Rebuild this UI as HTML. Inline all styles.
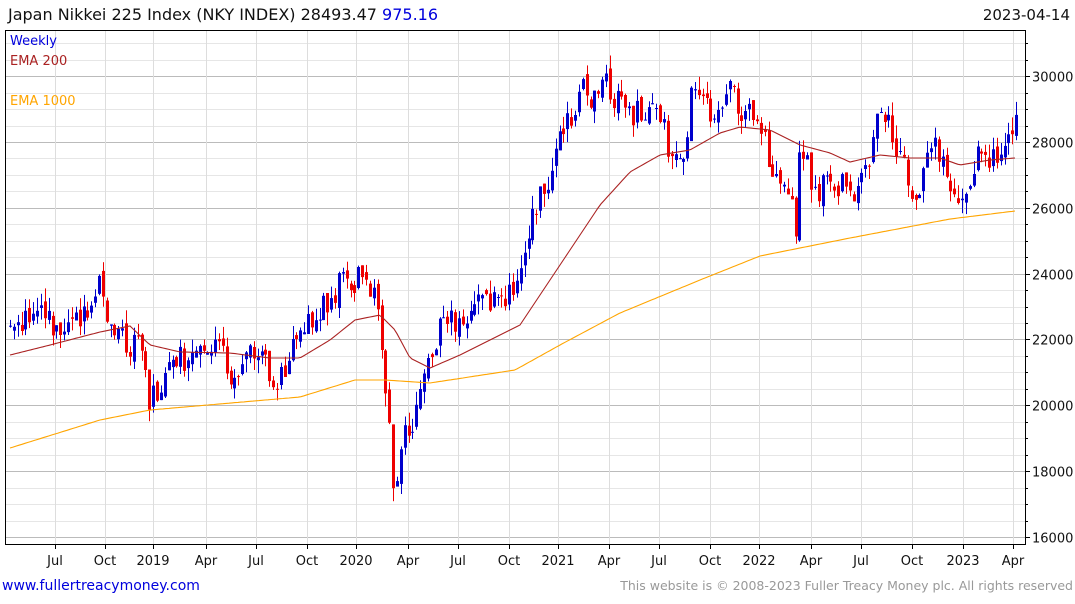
<!DOCTYPE html>
<html><head><meta charset="utf-8"><style>
body{margin:0;background:#fff;width:1075px;height:600px;overflow:hidden;font-family:"DejaVu Sans","Liberation Sans",sans-serif}
</style></head><body>
<svg id="s" width="1075" height="600" xmlns="http://www.w3.org/2000/svg" font-family="DejaVu Sans, Liberation Sans, sans-serif">
<g id="grid"></g>
<g id="cand"></g>
<polyline id="e1" points="" fill="none" stroke="#ffa500" stroke-width="1.1"/>
<polyline id="e2" points="" fill="none" stroke="#aa2222" stroke-width="1.1"/>
<rect x="5.5" y="30.5" width="1020" height="514" fill="none" stroke="#000"/>
<rect x="0" y="0" width="1075" height="30" fill="#fff"/>
<text x="8" y="20" font-size="16" fill="#111">Japan Nikkei 225 Index (NKY INDEX) 28493.47 <tspan fill="#0000dd">975.16</tspan></text>
<text x="1070" y="20" font-size="15" fill="#111" text-anchor="end">2023-04-14</text>
<text x="10" y="45" font-size="13" fill="#0000dd">Weekly</text>
<text x="10" y="65" font-size="13" fill="#aa2222">EMA 200</text>
<text x="10" y="105" font-size="13" fill="#ffa500">EMA 1000</text>
<text x="2" y="590" font-size="14" fill="#0000dd">www.fullertreacymoney.com</text>
<text x="1073" y="590" font-size="12.5" fill="#999" text-anchor="end">This website is © 2008-2023 Fuller Treacy Money plc. All rights reserved</text>
</svg>
<script>
(function(){
var NS="http://www.w3.org/2000/svg";
function el(p,t,a,tx){var e=document.createElementNS(NS,t);for(var k in a)e.setAttribute(k,String(a[k]));if(tx)e.textContent=tx;document.getElementById(p).appendChild(e);return e;}
function rnd(x){return (x+0.5)|0;}
function f1(x){return String(((x*10+0.5)|0)/10);}
function Y(v){return 537-(v-16000)*0.03292;}
for(var v=16000;v<=31000;v+=500){var y=rnd(Y(v))+.5;if(y<31||y>544)continue;
 var maj=(v%2000)==0;el('grid','line',{x1:5,x2:1025,y1:y,y2:y,stroke:maj?'#bbb':'#e6e6e6'});
 el('grid','line',{x1:1025,x2:maj?1030:1028,y1:y,y2:y,stroke:'#000'});
 if(maj)el('grid','text',{x:1032,y:y+5,'font-size':13,fill:'#111'},String(v));}
var xl=[[55,'Jul'],[105,'Oct'],[153,'2019'],[206,'Apr'],[256,'Jul'],[307,'Oct'],[356,'2020'],[408,'Apr'],[458,'Jul'],[509,'Oct'],[558,'2021'],[609,'Apr'],[659,'Jul'],[710,'Oct'],[759,'2022'],[811,'Apr'],[861,'Jul'],[912,'Oct'],[963,'2023'],[1013,'Apr']];
for(var j=0;j<xl.length;j++){var a=xl[j];var x=a[0]+.5;el('grid','line',{x1:x,x2:x,y1:31,y2:544,stroke:'#ddd'});
 el('grid','line',{x1:x,x2:x,y1:544,y2:549,stroke:'#000'});
 el('grid','text',{x:a[0],y:565,'font-size':13,fill:'#111','text-anchor':'middle'},a[1]);}
var P=[[10,330],[20,318],[40,318],[60,325],[80,322],[100,275],[110,325],[125,345],[140,350],[150,400],[165,380],[180,360],[200,350],[215,335],[230,375],[245,360],[260,355],[275,390],[290,350],[300,335],[315,320],[330,295],[345,280],[360,280],[375,290],[380,340],[388,400],[394,515],[400,450],[410,425],[420,400],[435,340],[440,315],[460,320],[470,310],[480,300],[500,295],[515,290],[525,265],[530,230],[540,185],[550,182],[555,155],[565,125],[575,105],[580,75],[590,95],[605,85],[615,100],[625,115],[640,110],[660,120],[670,150],[685,165],[692,65],[700,95],[710,115],[720,100],[730,88],[740,120],[755,115],[765,140],[775,180],[790,195],[795,245],[800,140],[810,175],[820,190],[835,180],[850,195],[860,185],[870,150],[880,112],[895,140],[905,170],[910,215],[920,180],[930,140],[940,150],[950,180],[960,210],[970,190],[975,150],[990,155],[1000,160],[1010,145],[1015,125]];
function interp(A,x){for(var i=1;i<A.length;i++){if(x<=A[i][0]){var a=A[i-1],b=A[i];return a[1]+(b[1]-a[1])*(x-a[0])/(b[0]-a[0]);}}return A[A.length-1][1];}
var D="31415926535897932384626433832795028841971693993751058209749445923078164062862089986280348253421170679821480865132823066470938446095505822317253594081284811174502841027019385211055596446229489549303819644288109756659334461284756482337867831652712019091456485669234603486104543266482133936072602491412737245870066063155881748815209209628292540917153643678925903600113305305488204665213841469519415116094330572703657595919530921861173819326117931051185480744623799627495673518857527248912279381830119491";
var di=0;function r(){var d=D.charCodeAt(di%D.length)-48;di++;return d/9;}
var prev=interp(P,10);
for(var i=0;i<=260;i++){var x=10+i*3.87;
 var c=interp(P,x)+(r()-.5)*26;var o=prev+(r()-.5)*10;
 var bt=o<c?o:c,bb=o<c?c:o;var hi=bt-r()*13,lo=bb+r()*13;
 var h=bb-bt;if(h<1)h=1;var xx=rnd(x);
 var col=(c<o)?'#0000cc':'#ee0000';
 el('cand','rect',{x:xx,y:f1(hi),width:1,height:f1(lo-hi),fill:col});
 el('cand','rect',{x:xx-1,y:f1(bt),width:3,height:f1(h),fill:col});
 prev=c;}
function poly(id,A){var s='';for(var x=10;x<=1015;x+=3)s+=x+','+f1(interp(A,x))+' ';document.getElementById(id).setAttribute('points',s);}
poly('e1',[[10,448],[100,420],[150,410],[300,397],[355,380],[385,380],[430,383],[515,370],[560,345],[620,313],[700,280],[760,256],[850,238],[950,219],[1015,211]]);
poly('e2',[[10,355],[50,345],[100,332],[130,326],[150,345],[180,352],[230,353],[270,358],[300,358],[330,340],[355,320],[380,315],[395,330],[410,358],[430,368],[460,355],[490,340],[520,325],[540,295],[570,250],[600,205],[630,172],[660,155],[690,150],[720,133],[740,127],[770,130],[800,145],[830,153],[850,162],[880,155],[910,158],[940,158],[960,165],[990,160],[1015,158]]);
})();
</script>
</body></html>
